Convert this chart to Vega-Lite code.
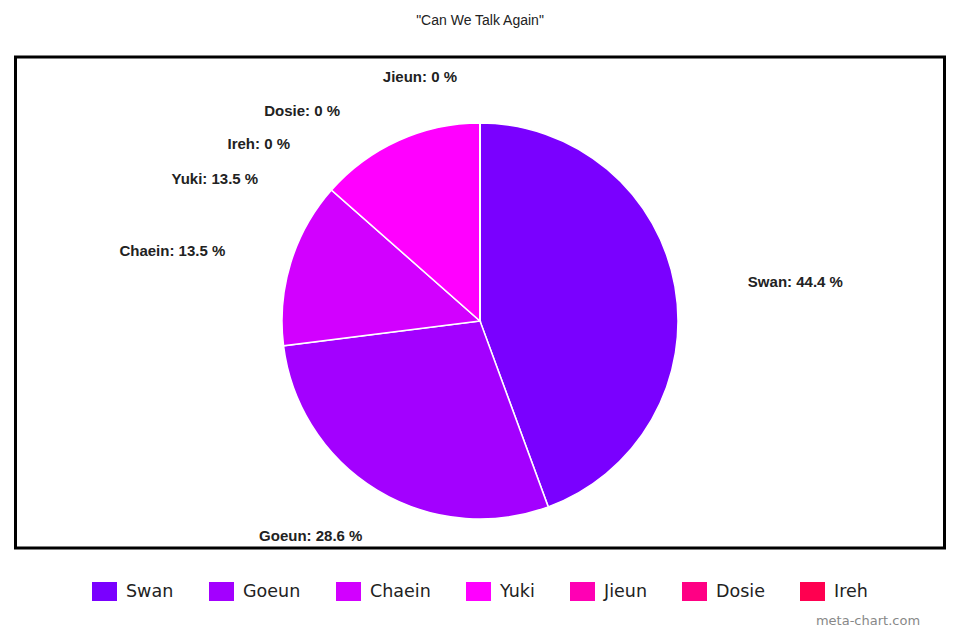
{
  "$schema": "https://vega.github.io/schema/vega-lite/v6.json",
  "width": 929,
  "height": 491,
  "autosize": "none",
  "padding": {"left": 15.5, "top": 57, "right": 15.5, "bottom": 92},
  "background": "white",
  "view": {"stroke": "black", "strokeWidth": 3, "fill": "white"},
  "title": {"text": "\"Can We Talk Again\"", "font": "Liberation Sans", "fontSize": 14, "fontWeight": "normal", "color": "#222222", "offset": 26, "anchor": "middle"},
  "data": {"values": [
    {"name": "Swan", "value": 44.4},
    {"name": "Goeun", "value": 28.6},
    {"name": "Chaein", "value": 13.5},
    {"name": "Yuki", "value": 13.5},
    {"name": "Jieun", "value": 0},
    {"name": "Dosie", "value": 0},
    {"name": "Ireh", "value": 0}
  ]},
  "transform": [
    {"window": [{"op": "row_number", "as": "idx"}]},
    {"calculate": "datum.name + ': ' + datum.value + ' %'", "as": "label"}
  ],
  "encoding": {
    "theta": {"field": "value", "type": "quantitative", "stack": true},
    "order": {"field": "idx", "type": "quantitative"}
  },
  "layer": [
    {
      "mark": {"type": "arc", "radius": 198, "stroke": "white", "strokeWidth": 1.5, "x": {"expr": "width/2"}, "y": {"expr": "height/2 + 18.5"}},
      "encoding": {
        "color": {
          "field": "name", "type": "nominal",
          "scale": {"domain": ["Swan", "Goeun", "Chaein", "Yuki", "Jieun", "Dosie", "Ireh"],
                    "range": ["#7a00ff", "#a300ff", "#d200ff", "#ff00ff", "#ff00b4", "#ff0084", "#ff0050"]},
          "legend": {
            "orient": "none", "direction": "horizontal", "columns": 7,
            "legendX": 76.5, "legendY": 522,
            "symbolType": "M-1,-0.76L1,-0.76L1,0.76L-1,0.76Z", "symbolSize": 625, "symbolStrokeWidth": 0, "symbolOpacity": 1,
            "labelFont": "DejaVu Sans", "labelFontSize": 17.5, "labelColor": "#222222", "labelOffset": 9,
            "columnPadding": 35, "padding": 0,
            "title": "meta-chart.com", "titleOrient": "bottom", "titleAnchor": "end", "titleAlign": "center",
            "titleFont": "DejaVu Sans", "titleFontSize": 13, "titleFontWeight": "normal", "titleColor": "#888888", "titlePadding": 14
          }
        }
      }
    },
    {
      "mark": {"type": "text", "radius": 268, "align": "left", "dx": 4, "dy": 8, "x": {"expr": "width/2"}, "y": {"expr": "height/2 + 18.5"}},
      "encoding": {"text": {"condition": {"test": "datum.name === 'Swan'", "field": "label"}, "value": ""}}
    },
    {
      "mark": {"type": "text", "radius": 255, "align": "right", "dx": 15, "dy": -3, "x": {"expr": "width/2"}, "y": {"expr": "height/2 + 18.5"}},
      "encoding": {"text": {"condition": {"test": "datum.name === 'Goeun'", "field": "label"}, "value": ""}}
    },
    {
      "mark": {"type": "text", "radius": 255, "align": "right", "dx": -11, "dy": 5, "x": {"expr": "width/2"}, "y": {"expr": "height/2 + 18.5"}},
      "encoding": {"text": {"condition": {"test": "datum.name === 'Chaein'", "field": "label"}, "value": ""}}
    },
    {
      "mark": {"type": "text", "radius": 245, "align": "right", "dx": -121, "dy": 81, "x": {"expr": "width/2"}, "y": {"expr": "height/2 + 18.5"}},
      "encoding": {"text": {"condition": {"test": "datum.name === 'Yuki'", "field": "label"}, "value": ""}}
    },
    {
      "mark": {"type": "text", "radius": 244, "align": "right", "dx": -23, "x": {"expr": "width/2"}, "y": {"expr": "height/2 + 18.5"}},
      "encoding": {"text": {"condition": {"test": "datum.name === 'Jieun'", "field": "label"}, "value": ""}}
    },
    {
      "mark": {"type": "text", "radius": 210, "align": "right", "dx": -140, "x": {"expr": "width/2"}, "y": {"expr": "height/2 + 18.5"}},
      "encoding": {"text": {"condition": {"test": "datum.name === 'Dosie'", "field": "label"}, "value": ""}}
    },
    {
      "mark": {"type": "text", "radius": 177, "align": "right", "dx": -190, "x": {"expr": "width/2"}, "y": {"expr": "height/2 + 18.5"}},
      "encoding": {"text": {"condition": {"test": "datum.name === 'Ireh'", "field": "label"}, "value": ""}}
    }
  ],
  "config": {
    "view": {"stroke": "black", "strokeWidth": 3},
    "text": {"font": "Liberation Sans", "fontSize": 15, "fontWeight": "bold", "color": "#222222", "baseline": "middle"}
  }
}
